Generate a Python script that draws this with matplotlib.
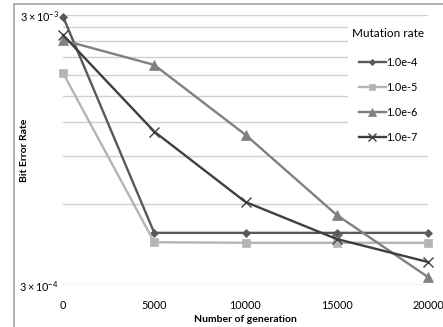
import matplotlib
matplotlib.use("Agg")
import matplotlib.pyplot as plt
from matplotlib.patches import Rectangle
from matplotlib.ticker import FixedLocator, NullLocator

plt.rcParams['font.family'] = ['Lato', 'DejaVu Sans']
plt.rcParams['mathtext.fontset'] = 'custom'
plt.rcParams['mathtext.rm'] = 'Lato'
plt.rcParams['mathtext.it'] = 'Lato:italic'

generations = [0, 5000, 10000, 15000, 20000]
series_labels = ["1.0e-4", "1.0e-5", "1.0e-6", "1.0e-7"]
ber_1e4 = [2.96e-3, 4.68e-4, 4.68e-4, 4.68e-4, 4.68e-4]
ber_1e5 = [1.83e-3, 4.32e-4, 4.30e-4, 4.30e-4, 4.30e-4]
ber_1e6 = [2.42e-3, 1.96e-3, 1.08e-3, 5.45e-4, 3.21e-4]
ber_1e7 = [2.53e-3, 1.11e-3, 6.09e-4, 4.44e-4, 3.65e-4]
xtick_labels = ["0", "5000", "10000", "15000", "20000"]

W, H = 443, 327
fig = plt.figure(figsize=(W / 100, H / 100), dpi=100)
fig.patch.set_facecolor('white')

# chart-area border
fig.patches.append(Rectangle((14 / W, -0.1), 1.2, (1 - 4 / H) + 0.1,
                             transform=fig.transFigure, fill=False,
                             edgecolor='#a6a6a6', linewidth=1.2))

ax = fig.add_axes([63 / W, 1 - 285 / H, (428 - 63) / W, (285 - 15) / H])
ax.set_facecolor('none')
ax.set_yscale('log')
ax.set_xlim(0, 20000)
ax.set_ylim(3e-4, 3e-3)

grid_vals = [3e-4 * k for k in range(1, 11)]
ax.yaxis.set_major_locator(FixedLocator(grid_vals))
ax.yaxis.set_minor_locator(NullLocator())
ylabels = ['' for _ in grid_vals]
ylabels[0] = r'$3\times10^{-4}$'
ylabels[-1] = r'$3\times10^{-3}$'
ax.set_yticklabels(ylabels)
ax.set_xticks(generations)
ax.set_xticklabels(xtick_labels)
ax.tick_params(axis='both', length=0, labelsize=7.8, colors='black')
ax.tick_params(axis='x', pad=11)
ax.tick_params(axis='y', pad=3)
for s in ax.spines.values():
    s.set_visible(False)
ax.grid(axis='y', color='#d0d0d0', linewidth=1.0)
ax.set_axisbelow(True)

styles = [
    (ber_1e4, '#595959', 'D', 4.0, series_labels[0]),
    (ber_1e5, '#b4b4b4', 's', 6.0, series_labels[1]),
    (ber_1e6, '#808080', '^', 6.5, series_labels[2]),
    (ber_1e7, '#3f3f3f', 'x', 6.5, series_labels[3]),
]
for vals, col, mk, ms, lab in styles:
    ax.plot(generations, vals, color=col, marker=mk, markersize=ms,
            linewidth=1.7, label=lab, clip_on=False, zorder=3,
            markeredgewidth=1.0 if mk == 'x' else 0.5,
            markeredgecolor=col, markerfacecolor=col)

leg = ax.legend(loc='upper right', bbox_to_anchor=(428 / W, 1 - 24 / H),
                bbox_transform=fig.transFigure, frameon=True,
                title='Mutation rate', fontsize=7.8, title_fontsize=8.5,
                handlelength=2.5, labelspacing=1.3, handletextpad=0.05,
                borderpad=0.35, borderaxespad=0, markerscale=0.8)
leg.get_frame().set_edgecolor('none')
leg.get_frame().set_facecolor('white')
leg.get_frame().set_alpha(1)
leg._legend_box.sep = 13

ax.set_xlabel('Number of generation', fontsize=7.5, fontweight='bold', labelpad=3)
ax.set_ylabel('Bit Error Rate', fontsize=7.5, fontweight='bold')
ax.yaxis.set_label_coords(29 / W, (327 - 150) / H, transform=fig.transFigure)

fig.savefig('out.png', dpi=100)
